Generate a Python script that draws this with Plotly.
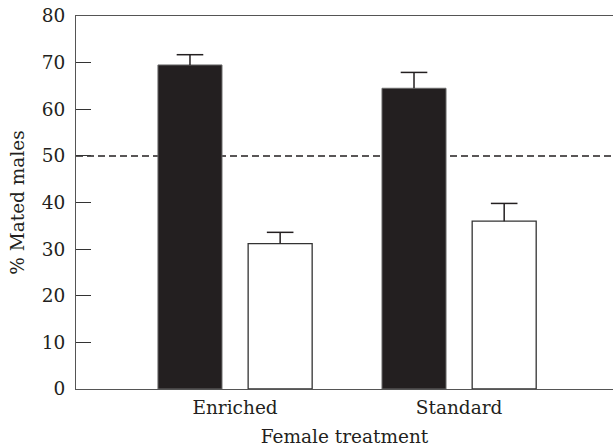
import plotly.graph_objects as go

categories = ["Enriched", "Standard"]
black_values = [69.5, 64.5]
black_errors = [2.2, 3.4]
white_values = [31.2, 36.0]
white_errors = [2.4, 3.8]
reference_level = 50
y_ticks = [0, 10, 20, 30, 40, 50, 60, 70, 80]

ink = "#231f20"
font = dict(family="DejaVu Serif", size=18.5, color=ink)

fig = go.Figure()
fig.add_trace(go.Bar(
    x=categories, y=black_values, name="black", offsetgroup="a",
    marker=dict(color=ink, line=dict(color="#6a6a6a", width=1)),
))
fig.add_trace(go.Bar(
    x=categories, y=white_values, name="white", offsetgroup="b",
    marker=dict(color="white", line=dict(color="#333333", width=1.3)),
))

# error whiskers: cap drawn as a horizontal line marker at the top of each whisker
for vals, errs, grp in [(black_values, black_errors, "a"),
                        (white_values, white_errors, "b")]:
    tops = [v + e for v, e in zip(vals, errs)]
    fig.add_trace(go.Scatter(
        x=categories, y=tops, mode="markers", offsetgroup=grp,
        marker=dict(symbol="line-ew", size=19, color=ink,
                    line=dict(color=ink, width=1.5)),
        error_y=dict(type="data", symmetric=False, array=[0] * len(errs),
                     arrayminus=errs, color=ink, thickness=1.5, width=0),
        hoverinfo="skip",
    ))

fig.add_shape(type="line", xref="paper", x0=0, x1=1, yref="y",
              y0=reference_level, y1=reference_level, layer="below",
              line=dict(color=ink, width=1.5, dash="7px,4px"))

fig.update_layout(
    width=613, height=447,
    margin=dict(l=76, r=0, t=15.5, b=58, pad=0),
    paper_bgcolor="white", plot_bgcolor="white",
    barmode="group", bargap=0.195, bargroupgap=0.29,
    scattermode="group", scattergap=0.195,
    showlegend=False, font=font,
)
fig.update_xaxes(
    range=[-0.71, 1.687], showline=True, linecolor="#555555", linewidth=1.2,
    mirror=True, ticks="", showgrid=False, zeroline=False, automargin=False,
    ticklabelstandoff=2,
    title=dict(text="Female treatment", font=font, standoff=12),
    tickfont=font,
)
fig.update_yaxes(
    range=[0, 80], tickvals=y_ticks, ticks="inside", ticklen=15,
    tickwidth=1.2, tickcolor="#333333",
    showline=True, linecolor="#555555", linewidth=1.2, mirror=False,
    showgrid=False, zeroline=False, ticklabelstandoff=6, automargin=False,
    title=dict(text="% Mated males", font=font, standoff=12),
    tickfont=font,
)

fig.write_html(
    "out.html",
    config={"displayModeBar": False},
    post_script="document.body.style.margin='0';document.body.style.overflow='hidden';",
)
